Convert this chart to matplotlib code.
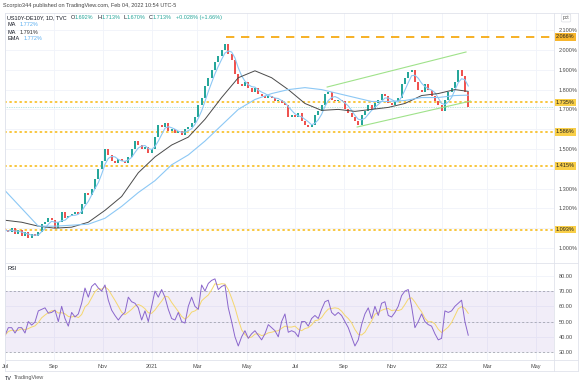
import numpy as np
import pandas as pd
import matplotlib
matplotlib.use('Agg')
import matplotlib.pyplot as plt
import matplotlib.transforms as mtransforms
from matplotlib.lines import Line2D

plt.rcParams['font.family'] = ['Liberation Sans', 'DejaVu Sans']

# US10Y-DE10Y daily, sampled every 3rd weekday from 2020-07-01 (close, %)
close = [
    1.09, 1.08, 1.10, 1.07, 1.09, 1.06, 1.08, 1.05, 1.07, 1.06,
    1.08, 1.12, 1.13, 1.15, 1.14, 1.10, 1.13, 1.18, 1.15, 1.16,
    1.17, 1.18, 1.17, 1.22, 1.28, 1.27, 1.30, 1.35, 1.40, 1.44,
    1.50, 1.47, 1.44, 1.43, 1.45, 1.44, 1.43, 1.46, 1.50, 1.54,
    1.52, 1.50, 1.51, 1.48, 1.50, 1.56, 1.62, 1.61, 1.63, 1.59,
    1.60, 1.58, 1.59, 1.57, 1.60, 1.61, 1.63, 1.66, 1.72, 1.76,
    1.82, 1.86, 1.90, 1.94, 1.97, 2.00, 2.03, 1.98, 1.95, 1.88,
    1.83, 1.82, 1.84, 1.81, 1.79, 1.81, 1.78, 1.77, 1.76, 1.77,
    1.76, 1.74, 1.75, 1.73, 1.72, 1.66, 1.67, 1.66, 1.68, 1.64,
    1.62, 1.61, 1.62, 1.67, 1.69, 1.72, 1.78, 1.79, 1.75, 1.74,
    1.75, 1.74, 1.70, 1.68, 1.66, 1.64, 1.62, 1.67, 1.69, 1.72,
    1.70, 1.73, 1.75, 1.78, 1.77, 1.73, 1.72, 1.74, 1.76, 1.83,
    1.86, 1.89, 1.90, 1.84, 1.80, 1.79, 1.83, 1.80, 1.77, 1.74,
    1.72, 1.69, 1.75, 1.79, 1.81, 1.84, 1.90, 1.87, 1.79, 1.713,
]
first_open = 1.10

rsi = [
    41, 46, 46, 42.5, 46, 46, 42.5, 50, 47.7, 49.7,
    57, 58, 59, 55.5, 56, 57.5, 50, 60, 52, 47,
    56, 53, 55, 62, 72, 66, 73, 75, 72, 70,
    74, 64, 57.5, 54, 51, 54, 56, 66, 63, 62,
    59, 51, 57, 50, 60, 70, 66, 71, 66, 58,
    52, 51, 56, 50, 49, 60, 66, 60, 58, 74,
    70, 75, 77, 78, 71, 73, 74, 59, 50, 40,
    34, 40, 44, 39, 42, 44, 41, 38, 42, 48,
    46, 44, 40, 50, 55, 43, 44, 43, 40, 50,
    50, 47, 52, 54, 52, 58, 63, 64, 56, 54,
    56, 54, 50, 46, 40, 34, 38, 48, 55, 59,
    52, 60, 54, 62, 63, 54, 53, 56, 60, 67,
    70, 71, 60, 46, 50, 55, 50, 48, 47, 42,
    38, 39, 57, 56, 57, 60, 62, 64, 50, 41.06,
]

# slow averages, every 15th weekday (last = Feb 4 2022)
ma_idx = list(range(0, 406, 15)) + [417]
ma50 = [1.14, 1.13, 1.11, 1.10, 1.105, 1.13, 1.19, 1.26, 1.38, 1.46,
        1.52, 1.56, 1.65, 1.76, 1.86, 1.895, 1.86, 1.80, 1.73, 1.695,
        1.70, 1.69, 1.70, 1.71, 1.73, 1.77, 1.78, 1.80, 1.791]
ema = [1.29, 1.20, 1.11, 1.11, 1.115, 1.12, 1.15, 1.21, 1.28, 1.34,
       1.42, 1.47, 1.54, 1.62, 1.70, 1.75, 1.78, 1.80, 1.81, 1.80,
       1.78, 1.76, 1.74, 1.74, 1.745, 1.76, 1.76, 1.77, 1.772]

levels = [1.735, 1.586, 1.415, 1.093]
top_level = 2.066
top_level_start = 199
channel_up = ([290, 415], [1.813, 1.99])
channel_lo = ([317, 419], [1.611, 1.742])
last_price = 1.713

price_ticks = [1.0, 1.1, 1.2, 1.3, 1.4, 1.5, 1.6, 1.7, 1.8, 1.9, 2.0, 2.1]
hidden_ticks = [1.1, 1.4, 1.6]  # covered by the level boxes
rsi_ticks = [30, 40, 50, 60, 70, 80]

month_starts = ['2020-07', '2020-09', '2020-11', '2021-01', '2021-03', '2021-05',
                '2021-07', '2021-09', '2021-11', '2022-01', '2022-03', '2022-05']
month_labels = ['Jul', 'Sep', 'Nov', '2021', 'Mar', 'May',
                'Jul', 'Sep', 'Nov', '2022', 'Mar', 'May']

UP, DOWN = '#26a69a', '#ef5350'
GRID = '#f0f3fa'
BORDER = '#e0e3eb'
TXT = '#4a4a4a'

W, H = 580, 386
fig = plt.figure(figsize=(W / 100, H / 100), dpi=100)
def fx(px): return px / W
def fy(py): return 1 - py / H

ax = fig.add_axes([fx(5), fy(263), fx(554) - fx(5), fy(13) - fy(263)])
rx = fig.add_axes([fx(5), fy(360), fx(554) - fx(5), fy(263) - fy(360)], sharex=ax)

days = pd.bdate_range('2020-07-01', '2022-06-30')
idx = np.arange(0, 3 * len(close), 3)
month_pos = [days.searchsorted(pd.Timestamp(m)) for m in month_starts]

# candles
c = np.array(close)
o = np.r_[first_open, c[:-1]]
cols = [UP if cc >= oo else DOWN for oo, cc in zip(o, c)]
ax.bar(idx, np.maximum(np.abs(c - o), 0.004), bottom=np.minimum(o, c),
       width=1.8, color=cols, linewidth=0, zorder=3)

fast = pd.Series(close).rolling(4, min_periods=1).mean()
ax.plot(idx, fast, color='#8cc8f5', lw=0.8, zorder=4)
ax.plot(ma_idx, ma50, color='#4a4a4a', lw=0.7, zorder=4)
ax.plot(ma_idx, ema, color='#8cc8f5', lw=0.8, zorder=4)

ax.plot(*channel_up, color='#9fe28a', lw=0.8, zorder=4)
ax.plot(*channel_lo, color='#9fe28a', lw=0.8, zorder=4)

ax.axhline(last_price, color=UP, lw=0.5, ls=(0, (1, 1.5)), alpha=0.6, zorder=2)
ax.plot([top_level_start, 500], [top_level] * 2, color='#f5a300', lw=1.2,
        ls=(0, (5, 4)), zorder=2)
for lv in levels:
    ax.axhline(lv, color='#f8c12d', lw=1.3, ls=(0, (0.6, 2.2)),
               dash_capstyle='round', zorder=2)

ax.set_xlim(1.8, 494.2)
ax.set_ylim(0.924, 2.187)
ax.yaxis.tick_right()
ax.set_yticks(price_ticks)
ax.yaxis.set_major_formatter(plt.FuncFormatter(
    lambda v, _: '' if round(v, 1) in hidden_ticks else f'{v:.3f}%'))
ax.set_xticks(month_pos)
ax.tick_params(axis='x', labelbottom=False, length=0)
ax.tick_params(axis='y', length=0, labelsize=4, colors=TXT, pad=3.5)
ax.grid(True, color=GRID, lw=0.6)
ax.set_axisbelow(True)
for s in ax.spines.values():
    s.set_visible(False)

trans = mtransforms.blended_transform_factory(fig.transFigure, ax.transData)
ax.text(fx(556), top_level, f'{top_level:.3f}%', transform=trans, fontsize=4,
        va='center', ha='left', color='#222', clip_on=False, zorder=6,
        bbox=dict(boxstyle='square,pad=0.25', fc='#f7b52c', ec='none'))
for lv in levels:
    ax.text(fx(556), lv, f'{lv:.3f}%', transform=trans, fontsize=4,
            va='center', ha='left', color='#222', clip_on=False, zorder=6,
            bbox=dict(boxstyle='square,pad=0.25', fc='#f9cf48', ec='none'))

# RSI pane
rx.axhspan(30, 70, color='#7e57c2', alpha=0.1, lw=0)
for lv in (70, 50, 30):
    rx.axhline(lv, color='#9598a1', lw=0.5, ls=(0, (3, 3)))
rx.plot(idx, rsi, color='#8a66cc', lw=0.7, zorder=4)
rx.plot(idx, pd.Series(rsi).rolling(5, min_periods=1).mean(), color='#f5d76e',
        lw=0.7, zorder=3)
rx.set_ylim(24.8, 88.4)
rx.yaxis.tick_right()
rx.set_yticks(rsi_ticks)
rx.yaxis.set_major_formatter(plt.FuncFormatter(lambda v, _: f'{v:.2f}'))
rx.set_xticks(month_pos)
rx.set_xticklabels(month_labels)
rx.tick_params(axis='y', length=0, labelsize=4, colors=TXT, pad=3.5)
rx.tick_params(axis='x', length=0, labelsize=4, colors=TXT, pad=3)
rx.grid(True, color=GRID, lw=0.6)
rx.set_axisbelow(True)
for s in rx.spines.values():
    s.set_visible(False)

# frame and separators
for y0 in (13, 263, 360, 371):
    fig.add_artist(Line2D([fx(5), fx(578)], [fy(y0)] * 2, color=BORDER, lw=0.6))
for x0 in (5, 554, 578):
    fig.add_artist(Line2D([fx(x0)] * 2, [fy(13), fy(371)], color=BORDER, lw=0.6))

def chain(x, y, parts, size=4):
    t = fig.text(fx(x), fy(y), parts[0][0], color=parts[0][1], fontsize=size,
                 va='center', ha='left')
    for s, col, gap in parts[1:]:
        t = ax.annotate(s, xy=(1, 0.5), xycoords=t, xytext=(gap, 0),
                        textcoords='offset points', va='center', ha='left',
                        fontsize=size, color=col, annotation_clip=False)
    return t

fig.text(fx(3), fy(6), 'Scorpio344 published on TradingView.com, Feb 04, 2022 10:54 UTC-5',
         fontsize=4, color='#444', va='center', ha='left')

teal = '#26a69a'
chain(7, 17.5, [('US10Y-DE10Y, 1D, TVC', '#131722'),
                ('O', '#131722', 3), ('1.692%', teal, 0),
                ('H', '#131722', 2.5), ('1.713%', teal, 0),
                ('L', '#131722', 2.5), ('1.670%', teal, 0),
                ('C', '#131722', 2.5), ('1.713%', teal, 0),
                ('+0.028% (+1.66%)', teal, 2.5)])
chain(7, 25, [('MA', '#131722'), ('1.772%', '#5aaef0', 3)])
chain(7, 32, [('MA', '#131722'), ('1.791%', '#333333', 3)])
chain(7, 39, [('EMA', '#131722'), ('1.772%', '#5aaef0', 3)])
chain(7, 269, [('RSI', '#131722'), ('41.06', '#7e57c2', 3), ('52.07', '#e0b400', 3),
               ('n/a', '#131722', 3), ('n/a', '#131722', 3)])

fig.text(fx(566), fy(18), 'pct', fontsize=3.5, color=TXT, va='center', ha='center',
         bbox=dict(boxstyle='round,pad=0.3', fc='white', ec='#d1d4dc', lw=0.4))

chain(5, 378, [('TV', '#131722'), ('TradingView', '#555555', 1.5)], size=4)

fig.savefig('out.png', dpi=100)
